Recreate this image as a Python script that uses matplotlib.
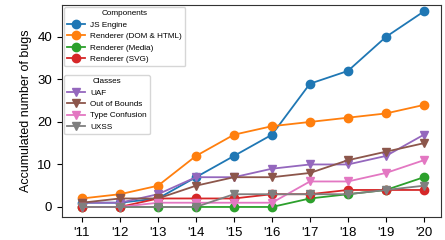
import matplotlib
matplotlib.use('Agg')
import matplotlib.pyplot as plt
import numpy as np

years = ["'11", "'12", "'13", "'14", "'15", "'16", "'17", "'18", "'19", "'20"]

# components
js_engine = [1, 1, 2, 7, 12, 17, 29, 32, 40, 46]
renderer_dom = [2, 3, 5, 12, 17, 19, 20, 21, 22, 24]
renderer_media = [0, 0, 0, 0, 0, 0, 2, 3, 4, 7]
renderer_svg = [0, 0, 2, 2, 2, 3, 3, 4, 4, 4]

# classes
uaf = [1, 1, 3, 7, 7, 9, 10, 10, 12, 17]
oob = [1, 2, 2, 5, 7, 7, 8, 11, 13, 15]
type_conf = [0, 0, 1, 1, 1, 1, 6, 6, 8, 11]
uxss = [0, 0, 0, 0, 3, 3, 3, 3, 4, 5]

plt.rcParams['font.family'] = ['Liberation Sans', 'DejaVu Sans']
fig = plt.figure(figsize=(4.45, 2.4), dpi=100)
ax = fig.add_axes([0.139, 0.096, 0.852, 0.883])
x = np.arange(len(years))

comp = [
    (js_engine, 'JS Engine', 'tab:blue'),
    (renderer_dom, 'Renderer (DOM & HTML)', 'tab:orange'),
    (renderer_media, 'Renderer (Media)', 'tab:green'),
    (renderer_svg, 'Renderer (SVG)', 'tab:red'),
]
cls = [
    (uaf, 'UAF', 'tab:purple'),
    (oob, 'Out of Bounds', 'tab:brown'),
    (type_conf, 'Type Confusion', 'tab:pink'),
    (uxss, 'UXSS', 'tab:gray'),
]

h1 = []
for vals, lab, c in comp:
    l, = ax.plot(x, vals, marker='o', markersize=6, color=c, label=lab, lw=1.3)
    h1.append(l)
h2 = []
for vals, lab, c in cls:
    l, = ax.plot(x, vals, marker='v', markersize=6, color=c, label=lab, lw=1.3)
    h2.append(l)

ax.set_xticks(x)
ax.set_xticklabels(years, fontsize=9.5)
ax.set_yticks([0, 10, 20, 30, 40])
ax.tick_params(axis='y', labelsize=9.5)
ax.set_xlim(-0.53, 9.45)
ax.set_ylim(-2.35, 47.5)
ax.set_ylabel('Accumulated number of bugs', fontsize=9)
for s in ax.spines.values():
    s.set_color('#333333')

leg1 = ax.legend(handles=h1, title='Components', loc='upper left',
                 fontsize=5.9, title_fontsize=5.9, borderaxespad=0.25,
                 labelspacing=0.45, handlelength=2.2, handletextpad=0.6,
                 borderpad=0.4)
ax.add_artist(leg1)
leg2 = ax.legend(handles=h2, title='Classes', loc='upper left',
                 bbox_to_anchor=(0.0, 0.68), fontsize=5.9, title_fontsize=5.9,
                 borderaxespad=0.25, labelspacing=0.45, handlelength=2.2,
                 handletextpad=0.6, borderpad=0.4)

fig.savefig('out.png', dpi=100)
